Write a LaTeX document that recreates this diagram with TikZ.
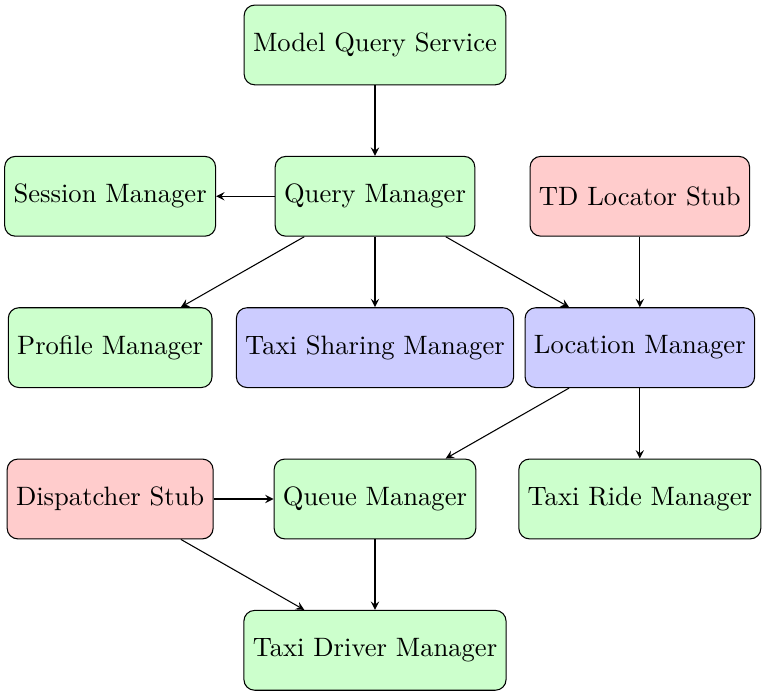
\documentclass[tikz,border=0pt]{standalone}
\begin{document}
\begin{tikzpicture}
  [auto=left,every node/.style={rectangle,draw,rounded corners,minimum height=3em},
   comp/.style={fill=green!20},stub/.style={fill=red!20},core/.style={fill=blue!20}]
\useasboundingbox (-141pt,-245.9pt) rectangle (147.4pt,16.9pt);
\node (mqs)[comp] at (0,0) {Model Query Service};
  \node (sm)[comp] at (-3.5,-2) {Session Manager};
  \node (qm)[comp] at (0,-2) {Query Manager};
  \node (tdl)[stub] at (3.5,-2) {TD Locator Stub};
  \node (pm)[comp] at (-3.5,-4) {Profile Manager};
  \node (tsm)[core] at (0,-4) {Taxi Sharing Manager};
  \node (lm)[core] at (3.5,-4) {Location Manager};
  \node (ds)[stub] at (-3.5,-6) {Dispatcher Stub};
  \node (qum)[comp] at (0,-6) {Queue Manager};
  \node (trm)[comp] at (3.5,-6) {Taxi Ride Manager};
  \node (tdm)[comp] at (0,-8) {Taxi Driver Manager};

 \foreach \from/\to in {mqs/qm,qm/sm,qm/pm,qm/tsm,qm/lm,tdl/lm,lm/qum,lm/trm,ds/qum,ds/tdm,qum/tdm}
    \draw[-stealth] (\from) -- (\to);
\end{tikzpicture}
\end{document}
